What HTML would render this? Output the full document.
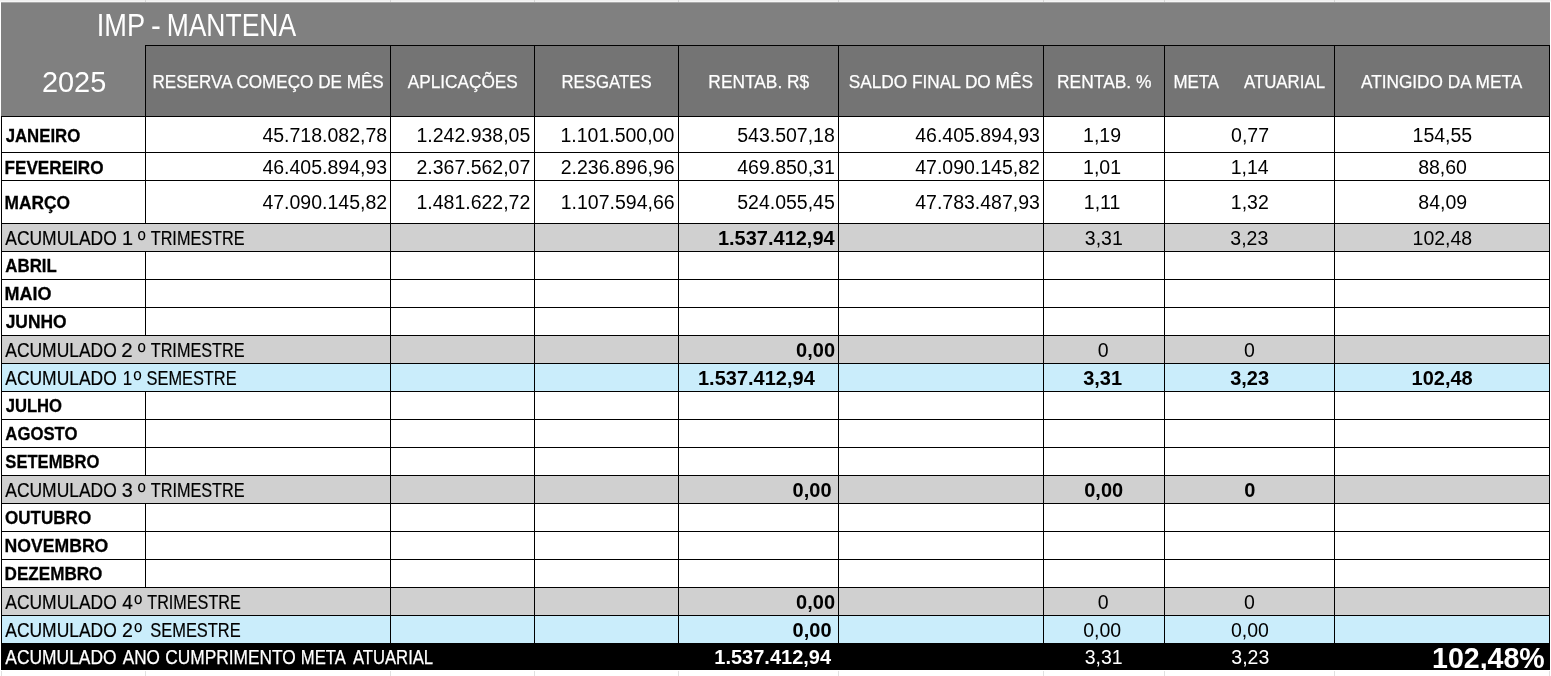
<!DOCTYPE html>
<html lang="pt-BR">
<head>
<meta charset="utf-8">
<title>IMP - MANTENA 2025</title>
<style>
html,body{margin:0;padding:0;background:#fff}
body{width:1551px;height:676px;overflow:hidden;position:relative;font-family:"Liberation Sans",sans-serif}
#sheet{position:absolute;left:0;top:0;width:1551px;height:676px;overflow:hidden;background:#fff}
#sheet div,#sheet span{position:absolute}
.f{}
.v{width:1px;background:#000}
.h{height:1px;background:#000}
.g{background:#e1e1e1}
.t{white-space:pre;line-height:24px;transform-origin:0 0;left:0;top:0}
.b{font-weight:bold}
.w{color:#fff}
</style>
</head>
<body>
<div id="sheet">
<div style="left:0;top:0;width:1551px;height:1px;background:#f0f0f0"></div>
<div style="left:0;top:1px;width:1551px;height:1px;background:#f6f6f6"></div>
<div class="g" style="left:145px;top:0;width:1px;height:2px;background:#d8d8d8"></div><div class="g" style="left:145px;top:671px;width:1px;height:5px"></div><div class="g" style="left:390px;top:0;width:1px;height:2px;background:#d8d8d8"></div><div class="g" style="left:390px;top:671px;width:1px;height:5px"></div><div class="g" style="left:534px;top:0;width:1px;height:2px;background:#d8d8d8"></div><div class="g" style="left:534px;top:671px;width:1px;height:5px"></div><div class="g" style="left:678px;top:0;width:1px;height:2px;background:#d8d8d8"></div><div class="g" style="left:678px;top:671px;width:1px;height:5px"></div><div class="g" style="left:838px;top:0;width:1px;height:2px;background:#d8d8d8"></div><div class="g" style="left:838px;top:671px;width:1px;height:5px"></div><div class="g" style="left:1043px;top:0;width:1px;height:2px;background:#d8d8d8"></div><div class="g" style="left:1043px;top:671px;width:1px;height:5px"></div><div class="g" style="left:1164px;top:0;width:1px;height:2px;background:#d8d8d8"></div><div class="g" style="left:1164px;top:671px;width:1px;height:5px"></div><div class="g" style="left:1334px;top:0;width:1px;height:2px;background:#d8d8d8"></div><div class="g" style="left:1334px;top:671px;width:1px;height:5px"></div><div class="g" style="left:1px;top:671px;width:1px;height:5px"></div><div class="g" style="left:1549px;top:671px;width:1px;height:5px"></div>
<div style="left:1px;top:2px;width:1549px;height:1px;background:#a9a9a9"></div>
<div style="left:1px;top:3px;width:1549px;height:113px;background:#808080"></div>
<div style="left:146px;top:46px;width:1403px;height:70px;background:#747474"></div>
<div style="left:2px;top:224px;width:1547px;height:27px;background:#d0d0d0"></div>
<div style="left:2px;top:336px;width:1547px;height:27px;background:#d0d0d0"></div>
<div style="left:2px;top:364px;width:1547px;height:27px;background:#caedfb"></div>
<div style="left:2px;top:476px;width:1547px;height:27px;background:#d0d0d0"></div>
<div style="left:2px;top:588px;width:1547px;height:27px;background:#d0d0d0"></div>
<div style="left:2px;top:616px;width:1547px;height:27px;background:#caedfb"></div>
<div style="left:1px;top:643px;width:1549px;height:27px;background:#000"></div>
<div class="h" style="left:145px;top:45px;width:1405px"></div>
<div class="h" style="left:1px;top:116px;width:1549px"></div><div class="h" style="left:1px;top:152px;width:1549px"></div><div class="h" style="left:1px;top:180px;width:1549px"></div><div class="h" style="left:1px;top:223px;width:1549px"></div><div class="h" style="left:1px;top:251px;width:1549px"></div><div class="h" style="left:1px;top:279px;width:1549px"></div><div class="h" style="left:1px;top:307px;width:1549px"></div><div class="h" style="left:1px;top:335px;width:1549px"></div><div class="h" style="left:1px;top:363px;width:1549px"></div><div class="h" style="left:1px;top:391px;width:1549px"></div><div class="h" style="left:1px;top:419px;width:1549px"></div><div class="h" style="left:1px;top:447px;width:1549px"></div><div class="h" style="left:1px;top:475px;width:1549px"></div><div class="h" style="left:1px;top:503px;width:1549px"></div><div class="h" style="left:1px;top:531px;width:1549px"></div><div class="h" style="left:1px;top:559px;width:1549px"></div><div class="h" style="left:1px;top:587px;width:1549px"></div><div class="h" style="left:1px;top:615px;width:1549px"></div>
<div class="v" style="left:145px;top:45px;height:71px"></div><div class="v" style="left:390px;top:45px;height:71px"></div><div class="v" style="left:534px;top:45px;height:71px"></div><div class="v" style="left:678px;top:45px;height:71px"></div><div class="v" style="left:838px;top:45px;height:71px"></div><div class="v" style="left:1043px;top:45px;height:71px"></div><div class="v" style="left:1164px;top:45px;height:71px"></div><div class="v" style="left:1334px;top:45px;height:71px"></div><div class="v" style="left:1549px;top:45px;height:71px"></div><div class="v" style="left:1px;top:116px;height:527px"></div><div class="v" style="left:1549px;top:116px;height:527px"></div><div class="v" style="left:145px;top:116px;height:36px"></div><div class="v" style="left:390px;top:116px;height:36px"></div><div class="v" style="left:534px;top:116px;height:36px"></div><div class="v" style="left:678px;top:116px;height:36px"></div><div class="v" style="left:838px;top:116px;height:36px"></div><div class="v" style="left:1043px;top:116px;height:36px"></div><div class="v" style="left:1164px;top:116px;height:36px"></div><div class="v" style="left:1334px;top:116px;height:36px"></div><div class="v" style="left:145px;top:152px;height:28px"></div><div class="v" style="left:390px;top:152px;height:28px"></div><div class="v" style="left:534px;top:152px;height:28px"></div><div class="v" style="left:678px;top:152px;height:28px"></div><div class="v" style="left:838px;top:152px;height:28px"></div><div class="v" style="left:1043px;top:152px;height:28px"></div><div class="v" style="left:1164px;top:152px;height:28px"></div><div class="v" style="left:1334px;top:152px;height:28px"></div><div class="v" style="left:145px;top:180px;height:43px"></div><div class="v" style="left:390px;top:180px;height:43px"></div><div class="v" style="left:534px;top:180px;height:43px"></div><div class="v" style="left:678px;top:180px;height:43px"></div><div class="v" style="left:838px;top:180px;height:43px"></div><div class="v" style="left:1043px;top:180px;height:43px"></div><div class="v" style="left:1164px;top:180px;height:43px"></div><div class="v" style="left:1334px;top:180px;height:43px"></div><div class="v" style="left:390px;top:223px;height:28px"></div><div class="v" style="left:534px;top:223px;height:28px"></div><div class="v" style="left:678px;top:223px;height:28px"></div><div class="v" style="left:838px;top:223px;height:28px"></div><div class="v" style="left:1043px;top:223px;height:28px"></div><div class="v" style="left:1164px;top:223px;height:28px"></div><div class="v" style="left:1334px;top:223px;height:28px"></div><div class="v" style="left:145px;top:251px;height:28px"></div><div class="v" style="left:390px;top:251px;height:28px"></div><div class="v" style="left:534px;top:251px;height:28px"></div><div class="v" style="left:678px;top:251px;height:28px"></div><div class="v" style="left:838px;top:251px;height:28px"></div><div class="v" style="left:1043px;top:251px;height:28px"></div><div class="v" style="left:1164px;top:251px;height:28px"></div><div class="v" style="left:1334px;top:251px;height:28px"></div><div class="v" style="left:145px;top:279px;height:28px"></div><div class="v" style="left:390px;top:279px;height:28px"></div><div class="v" style="left:534px;top:279px;height:28px"></div><div class="v" style="left:678px;top:279px;height:28px"></div><div class="v" style="left:838px;top:279px;height:28px"></div><div class="v" style="left:1043px;top:279px;height:28px"></div><div class="v" style="left:1164px;top:279px;height:28px"></div><div class="v" style="left:1334px;top:279px;height:28px"></div><div class="v" style="left:145px;top:307px;height:28px"></div><div class="v" style="left:390px;top:307px;height:28px"></div><div class="v" style="left:534px;top:307px;height:28px"></div><div class="v" style="left:678px;top:307px;height:28px"></div><div class="v" style="left:838px;top:307px;height:28px"></div><div class="v" style="left:1043px;top:307px;height:28px"></div><div class="v" style="left:1164px;top:307px;height:28px"></div><div class="v" style="left:1334px;top:307px;height:28px"></div><div class="v" style="left:390px;top:335px;height:28px"></div><div class="v" style="left:534px;top:335px;height:28px"></div><div class="v" style="left:678px;top:335px;height:28px"></div><div class="v" style="left:838px;top:335px;height:28px"></div><div class="v" style="left:1043px;top:335px;height:28px"></div><div class="v" style="left:1164px;top:335px;height:28px"></div><div class="v" style="left:1334px;top:335px;height:28px"></div><div class="v" style="left:390px;top:363px;height:28px"></div><div class="v" style="left:534px;top:363px;height:28px"></div><div class="v" style="left:678px;top:363px;height:28px"></div><div class="v" style="left:838px;top:363px;height:28px"></div><div class="v" style="left:1043px;top:363px;height:28px"></div><div class="v" style="left:1164px;top:363px;height:28px"></div><div class="v" style="left:1334px;top:363px;height:28px"></div><div class="v" style="left:145px;top:391px;height:28px"></div><div class="v" style="left:390px;top:391px;height:28px"></div><div class="v" style="left:534px;top:391px;height:28px"></div><div class="v" style="left:678px;top:391px;height:28px"></div><div class="v" style="left:838px;top:391px;height:28px"></div><div class="v" style="left:1043px;top:391px;height:28px"></div><div class="v" style="left:1164px;top:391px;height:28px"></div><div class="v" style="left:1334px;top:391px;height:28px"></div><div class="v" style="left:145px;top:419px;height:28px"></div><div class="v" style="left:390px;top:419px;height:28px"></div><div class="v" style="left:534px;top:419px;height:28px"></div><div class="v" style="left:678px;top:419px;height:28px"></div><div class="v" style="left:838px;top:419px;height:28px"></div><div class="v" style="left:1043px;top:419px;height:28px"></div><div class="v" style="left:1164px;top:419px;height:28px"></div><div class="v" style="left:1334px;top:419px;height:28px"></div><div class="v" style="left:145px;top:447px;height:28px"></div><div class="v" style="left:390px;top:447px;height:28px"></div><div class="v" style="left:534px;top:447px;height:28px"></div><div class="v" style="left:678px;top:447px;height:28px"></div><div class="v" style="left:838px;top:447px;height:28px"></div><div class="v" style="left:1043px;top:447px;height:28px"></div><div class="v" style="left:1164px;top:447px;height:28px"></div><div class="v" style="left:1334px;top:447px;height:28px"></div><div class="v" style="left:390px;top:475px;height:28px"></div><div class="v" style="left:534px;top:475px;height:28px"></div><div class="v" style="left:678px;top:475px;height:28px"></div><div class="v" style="left:838px;top:475px;height:28px"></div><div class="v" style="left:1043px;top:475px;height:28px"></div><div class="v" style="left:1164px;top:475px;height:28px"></div><div class="v" style="left:1334px;top:475px;height:28px"></div><div class="v" style="left:145px;top:503px;height:28px"></div><div class="v" style="left:390px;top:503px;height:28px"></div><div class="v" style="left:534px;top:503px;height:28px"></div><div class="v" style="left:678px;top:503px;height:28px"></div><div class="v" style="left:838px;top:503px;height:28px"></div><div class="v" style="left:1043px;top:503px;height:28px"></div><div class="v" style="left:1164px;top:503px;height:28px"></div><div class="v" style="left:1334px;top:503px;height:28px"></div><div class="v" style="left:145px;top:531px;height:28px"></div><div class="v" style="left:390px;top:531px;height:28px"></div><div class="v" style="left:534px;top:531px;height:28px"></div><div class="v" style="left:678px;top:531px;height:28px"></div><div class="v" style="left:838px;top:531px;height:28px"></div><div class="v" style="left:1043px;top:531px;height:28px"></div><div class="v" style="left:1164px;top:531px;height:28px"></div><div class="v" style="left:1334px;top:531px;height:28px"></div><div class="v" style="left:145px;top:559px;height:28px"></div><div class="v" style="left:390px;top:559px;height:28px"></div><div class="v" style="left:534px;top:559px;height:28px"></div><div class="v" style="left:678px;top:559px;height:28px"></div><div class="v" style="left:838px;top:559px;height:28px"></div><div class="v" style="left:1043px;top:559px;height:28px"></div><div class="v" style="left:1164px;top:559px;height:28px"></div><div class="v" style="left:1334px;top:559px;height:28px"></div><div class="v" style="left:390px;top:587px;height:28px"></div><div class="v" style="left:534px;top:587px;height:28px"></div><div class="v" style="left:678px;top:587px;height:28px"></div><div class="v" style="left:838px;top:587px;height:28px"></div><div class="v" style="left:1043px;top:587px;height:28px"></div><div class="v" style="left:1164px;top:587px;height:28px"></div><div class="v" style="left:1334px;top:587px;height:28px"></div><div class="v" style="left:390px;top:615px;height:28px"></div><div class="v" style="left:534px;top:615px;height:28px"></div><div class="v" style="left:678px;top:615px;height:28px"></div><div class="v" style="left:838px;top:615px;height:28px"></div><div class="v" style="left:1043px;top:615px;height:28px"></div><div class="v" style="left:1164px;top:615px;height:28px"></div><div class="v" style="left:1334px;top:615px;height:28px"></div>
<span class="t w" style="font-size:30.5px;transform:translate(96.67px,13.00px) scale(0.8920,1.0000)">IMP</span>
<span class="t w" style="font-size:30.5px;transform:translate(151.08px,13.00px) scale(0.9628,1.0000)">-</span>
<span class="t w" style="font-size:30.5px;transform:translate(166.63px,13.00px) scale(0.8680,1.0000)">MANTENA</span>
<span class="t w" style="font-size:29px;transform:translate(41.94px,70.00px) scale(0.9971,1.0000)">2025</span>
<span class="t w" style="font-size:18.8px;transform:translate(152.38px,69.50px) scale(0.9110,1.0000);-webkit-text-stroke:0.25px #fff">RESERVA COMEÇO DE MÊS</span>
<span class="t w" style="font-size:18.8px;transform:translate(407.71px,69.50px) scale(0.9171,1.0000);-webkit-text-stroke:0.25px #fff">APLICAÇÕES</span>
<span class="t w" style="font-size:18.8px;transform:translate(561.50px,69.50px) scale(0.8931,1.0000);-webkit-text-stroke:0.25px #fff">RESGATES</span>
<span class="t w" style="font-size:18.8px;transform:translate(708.36px,69.50px) scale(0.9236,1.0000);-webkit-text-stroke:0.25px #fff">RENTAB. R$</span>
<span class="t w" style="font-size:18.8px;transform:translate(848.78px,69.50px) scale(0.9172,1.0000);-webkit-text-stroke:0.25px #fff">SALDO FINAL DO MÊS</span>
<span class="t w" style="font-size:18.8px;transform:translate(1057.05px,69.50px) scale(0.9267,1.0000);-webkit-text-stroke:0.25px #fff">RENTAB. %</span>
<span class="t w" style="font-size:18.8px;transform:translate(1173.39px,69.50px) scale(0.9014,1.0000);-webkit-text-stroke:0.25px #fff">META</span>
<span class="t w" style="font-size:18.8px;transform:translate(1243.91px,69.50px) scale(0.8968,1.0000);-webkit-text-stroke:0.25px #fff">ATUARIAL</span>
<span class="t w" style="font-size:18.8px;transform:translate(1360.91px,69.50px) scale(0.9181,1.0000);-webkit-text-stroke:0.25px #fff">ATINGIDO DA META</span>
<span class="t b" style="font-size:19.1px;transform:translate(5.63px,123.70px) scale(0.8787,1.0000);-webkit-text-stroke:0.3px #000">JANEIRO</span>
<span class="t b" style="font-size:19.1px;transform:translate(4.56px,155.70px) scale(0.8967,1.0000);-webkit-text-stroke:0.3px #000">FEVEREIRO</span>
<span class="t b" style="font-size:19.1px;transform:translate(4.55px,190.70px) scale(0.9064,1.0000);-webkit-text-stroke:0.3px #000">MARÇO</span>
<span class="t b" style="font-size:19.1px;transform:translate(5.37px,254.30px) scale(0.8823,1.0000);-webkit-text-stroke:0.3px #000">ABRIL</span>
<span class="t b" style="font-size:19.1px;transform:translate(4.52px,282.30px) scale(0.9413,1.0000);-webkit-text-stroke:0.3px #000">MAIO</span>
<span class="t b" style="font-size:19.1px;transform:translate(5.64px,310.30px) scale(0.9110,1.0000);-webkit-text-stroke:0.3px #000">JUNHO</span>
<span class="t b" style="font-size:19.1px;transform:translate(5.63px,394.30px) scale(0.8713,1.0000);-webkit-text-stroke:0.3px #000">JULHO</span>
<span class="t b" style="font-size:19.1px;transform:translate(5.37px,422.30px) scale(0.8743,1.0000);-webkit-text-stroke:0.3px #000">AGOSTO</span>
<span class="t b" style="font-size:19.1px;transform:translate(5.37px,450.30px) scale(0.8681,1.0000);-webkit-text-stroke:0.3px #000">SETEMBRO</span>
<span class="t b" style="font-size:19.1px;transform:translate(5.10px,506.30px) scale(0.8911,1.0000);-webkit-text-stroke:0.3px #000">OUTUBRO</span>
<span class="t b" style="font-size:19.1px;transform:translate(4.54px,534.30px) scale(0.9229,1.0000);-webkit-text-stroke:0.3px #000">NOVEMBRO</span>
<span class="t b" style="font-size:19.1px;transform:translate(4.57px,562.30px) scale(0.8955,1.0000);-webkit-text-stroke:0.3px #000">DEZEMBRO</span>
<span class="t" style="font-size:19.3px;transform:translate(5.29px,226.70px) scale(0.9048,1.0000);-webkit-text-stroke:0.2px #000">ACUMULADO</span>
<span class="t" style="font-size:19.3px;transform:translate(122.06px,226.70px) scale(1.0285,1.0000);-webkit-text-stroke:0.2px #000">1</span>
<span class="t" style="font-size:19.3px;transform:translate(137.70px,225.50px) scale(1.1102,1.2500)">º</span>
<span class="t" style="font-size:19.3px;transform:translate(150.73px,226.70px) scale(0.8418,1.0000);-webkit-text-stroke:0.2px #000">TRIMESTRE</span>
<span class="t" style="font-size:19.3px;transform:translate(5.29px,338.70px) scale(0.9048,1.0000);-webkit-text-stroke:0.2px #000">ACUMULADO</span>
<span class="t" style="font-size:19.3px;transform:translate(121.35px,338.70px) scale(1.0598,1.0000);-webkit-text-stroke:0.2px #000">2</span>
<span class="t" style="font-size:19.3px;transform:translate(137.70px,337.50px) scale(1.1102,1.2500)">º</span>
<span class="t" style="font-size:19.3px;transform:translate(150.73px,338.70px) scale(0.8418,1.0000);-webkit-text-stroke:0.2px #000">TRIMESTRE</span>
<span class="t" style="font-size:19.3px;transform:translate(5.29px,366.70px) scale(0.9048,1.0000);-webkit-text-stroke:0.2px #000">ACUMULADO</span>
<span class="t" style="font-size:19.3px;transform:translate(122.74px,366.70px) scale(0.8720,1.0000);-webkit-text-stroke:0.2px #000">1</span>
<span class="t" style="font-size:19.3px;transform:translate(133.50px,365.50px) scale(1.1246,1.2500)">º</span>
<span class="t" style="font-size:19.3px;transform:translate(146.57px,366.70px) scale(0.8489,1.0000);-webkit-text-stroke:0.2px #000">SEMESTRE</span>
<span class="t" style="font-size:19.3px;transform:translate(5.29px,478.70px) scale(0.9048,1.0000);-webkit-text-stroke:0.2px #000">ACUMULADO</span>
<span class="t" style="font-size:19.3px;transform:translate(121.68px,478.70px) scale(1.0263,1.0000);-webkit-text-stroke:0.2px #000">3</span>
<span class="t" style="font-size:19.3px;transform:translate(137.70px,477.50px) scale(1.1102,1.2500)">º</span>
<span class="t" style="font-size:19.3px;transform:translate(150.73px,478.70px) scale(0.8427,1.0000);-webkit-text-stroke:0.2px #000">TRIMESTRE</span>
<span class="t" style="font-size:19.3px;transform:translate(5.29px,590.70px) scale(0.9048,1.0000);-webkit-text-stroke:0.2px #000">ACUMULADO</span>
<span class="t" style="font-size:19.3px;transform:translate(122.30px,590.70px) scale(0.9851,1.0000);-webkit-text-stroke:0.2px #000">4</span>
<span class="t" style="font-size:19.3px;transform:translate(134.30px,589.50px) scale(1.1102,1.2500)">º</span>
<span class="t" style="font-size:19.3px;transform:translate(147.33px,590.70px) scale(0.8382,1.0000);-webkit-text-stroke:0.2px #000">TRIMESTRE</span>
<span class="t" style="font-size:19.3px;transform:translate(5.29px,618.70px) scale(0.9048,1.0000);-webkit-text-stroke:0.2px #000">ACUMULADO</span>
<span class="t" style="font-size:19.3px;transform:translate(121.98px,618.70px) scale(1.0166,1.0000);-webkit-text-stroke:0.2px #000">2</span>
<span class="t" style="font-size:19.3px;transform:translate(134.30px,617.50px) scale(1.1102,1.2500)">º</span>
<span class="t" style="font-size:19.3px;transform:translate(150.27px,618.70px) scale(0.8527,1.0000);-webkit-text-stroke:0.2px #000">SEMESTRE</span>
<span class="t w" style="font-size:19.3px;transform:translate(5.31px,645.70px) scale(0.9028,1.0000);-webkit-text-stroke:0.25px #fff">ACUMULADO</span>
<span class="t w" style="font-size:19.3px;transform:translate(122.71px,645.70px) scale(0.8900,1.0000);-webkit-text-stroke:0.25px #fff">ANO</span>
<span class="t w" style="font-size:19.3px;transform:translate(165.20px,645.70px) scale(0.8988,1.0000);-webkit-text-stroke:0.25px #fff">CUMPRIMENTO</span>
<span class="t w" style="font-size:19.3px;transform:translate(300.81px,645.70px) scale(0.8625,1.0000);-webkit-text-stroke:0.25px #fff">META</span>
<span class="t w" style="font-size:19.3px;transform:translate(352.91px,645.70px) scale(0.8639,1.0000);-webkit-text-stroke:0.25px #fff">ATUARIAL</span>
<span class="t" style="font-size:19.5px;transform:translate(262.39px,123.00px)">45.718.082,78</span>
<span class="t" style="font-size:19.5px;transform:translate(416.43px,123.00px)">1.242.938,05</span>
<span class="t" style="font-size:19.5px;transform:translate(560.43px,123.00px)">1.101.500,00</span>
<span class="t" style="font-size:19.5px;transform:translate(737.20px,123.00px)">543.507,18</span>
<span class="t" style="font-size:19.5px;transform:translate(915.19px,123.00px)">46.405.894,93</span>
<span class="t" style="font-size:19.5px;transform:translate(1083.11px,123.00px)">1,19</span>
<span class="t" style="font-size:19.5px;transform:translate(1231.11px,123.00px)">0,77</span>
<span class="t" style="font-size:19.5px;transform:translate(1412.56px,123.00px)">154,55</span>
<span class="t" style="font-size:19.5px;transform:translate(262.39px,155.00px)">46.405.894,93</span>
<span class="t" style="font-size:19.5px;transform:translate(416.43px,155.00px)">2.367.562,07</span>
<span class="t" style="font-size:19.5px;transform:translate(560.73px,155.00px)">2.236.896,96</span>
<span class="t" style="font-size:19.5px;transform:translate(737.20px,155.00px)">469.850,31</span>
<span class="t" style="font-size:19.5px;transform:translate(915.19px,155.00px)">47.090.145,82</span>
<span class="t" style="font-size:19.5px;transform:translate(1083.11px,155.00px)">1,01</span>
<span class="t" style="font-size:19.5px;transform:translate(1230.66px,155.00px)">1,14</span>
<span class="t" style="font-size:19.5px;transform:translate(1418.14px,155.00px)">88,60</span>
<span class="t" style="font-size:19.5px;transform:translate(262.39px,190.00px)">47.090.145,82</span>
<span class="t" style="font-size:19.5px;transform:translate(416.43px,190.00px)">1.481.622,72</span>
<span class="t" style="font-size:19.5px;transform:translate(560.73px,190.00px)">1.107.594,66</span>
<span class="t" style="font-size:19.5px;transform:translate(737.20px,190.00px)">524.055,45</span>
<span class="t" style="font-size:19.5px;transform:translate(915.19px,190.00px)">47.783.487,93</span>
<span class="t" style="font-size:19.5px;transform:translate(1083.83px,190.00px)">1,11</span>
<span class="t" style="font-size:19.5px;transform:translate(1230.81px,190.00px)">1,32</span>
<span class="t" style="font-size:19.5px;transform:translate(1418.29px,190.00px)">84,09</span>
<span class="t b" style="font-size:20px;transform:translate(717.90px,226.00px)">1.537.412,94</span>
<span class="t" style="font-size:19.5px;transform:translate(1084.81px,226.00px)">3,31</span>
<span class="t" style="font-size:19.5px;transform:translate(1230.31px,226.00px)">3,23</span>
<span class="t" style="font-size:19.5px;transform:translate(1412.56px,226.00px)">102,48</span>
<span class="t b" style="font-size:20px;transform:translate(796.08px,338.00px)">0,00</span>
<span class="t" style="font-size:19.5px;transform:translate(1097.72px,338.00px)">0</span>
<span class="t" style="font-size:19.5px;transform:translate(1244.12px,338.00px)">0</span>
<span class="t b" style="font-size:20px;transform:translate(698.00px,366.00px)">1.537.412,94</span>
<span class="t b" style="font-size:20px;transform:translate(1083.13px,366.00px)">3,31</span>
<span class="t b" style="font-size:20px;transform:translate(1230.13px,366.00px)">3,23</span>
<span class="t b" style="font-size:20px;transform:translate(1411.54px,366.00px)">102,48</span>
<span class="t b" style="font-size:20px;transform:translate(792.58px,478.00px)">0,00</span>
<span class="t b" style="font-size:20px;transform:translate(1084.23px,478.00px)">0,00</span>
<span class="t b" style="font-size:20px;transform:translate(1244.33px,478.00px)">0</span>
<span class="t b" style="font-size:20px;transform:translate(796.08px,590.00px)">0,00</span>
<span class="t" style="font-size:19.5px;transform:translate(1097.72px,590.00px)">0</span>
<span class="t" style="font-size:19.5px;transform:translate(1244.12px,590.00px)">0</span>
<span class="t b" style="font-size:20px;transform:translate(792.58px,618.00px)">0,00</span>
<span class="t" style="font-size:19.5px;transform:translate(1083.16px,618.00px)">0,00</span>
<span class="t" style="font-size:19.5px;transform:translate(1230.96px,618.00px)">0,00</span>
<span class="t b w" style="font-size:20px;transform:translate(714.30px,645.00px)">1.537.412,94</span>
<span class="t w" style="font-size:19.5px;transform:translate(1084.71px,645.00px)">3,31</span>
<span class="t w" style="font-size:19.5px;transform:translate(1231.31px,645.00px)">3,23</span>
<span class="t b w" style="font-size:29px;transform:translate(1432.02px,646.00px) scale(0.9843,1.0000)">102,48%</span>
</div>
</body>
</html>
